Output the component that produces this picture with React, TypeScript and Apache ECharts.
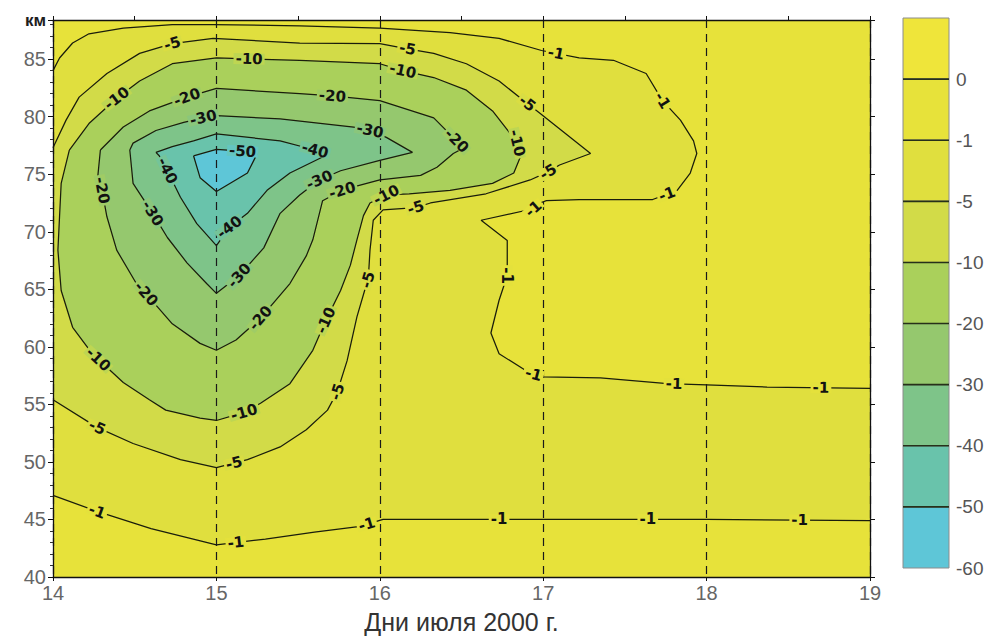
import React, { useEffect, useRef } from "react";
import * as echarts from "echarts";

type Pt = [number, number];

// Contour levels (colour-bar order, top to bottom)
const levelValues = [0, -1, -5, -10, -20, -30, -40, -50, -60];

// Band fills: above 0, 0…-1, -1…-5, -5…-10, -10…-20, -20…-30, -30…-40, -40…-50, -50…-60
const bandColors = [
  "#efe53a",
  "#e7e23a",
  "#e0df3e",
  "#d2db48",
  "#aad05b",
  "#95c86e",
  "#7ec489",
  "#69c3ab",
  "#5ec6d7",
];

// Isolines in (day of July, km)
const iso1Lower: Pt[] = [
  [14, 47.1], [14.27, 45.7], [14.6, 44.2], [15.0, 42.8], [15.3, 43.3], [15.6, 43.9],
  [15.88, 44.4], [16.02, 45.0], [17, 45.0], [18, 45.0], [19, 44.9],
];

const iso1Upper: Pt[] = [
  [14, 84.0], [14.04, 85.1], [14.12, 86.4], [14.22, 87.2], [14.43, 87.7], [14.73, 88.0],
  [14.98, 88.0], [15.51, 87.9], [16.0, 87.7], [16.43, 87.3], [16.73, 86.8], [16.99, 85.75],
  [17.22, 85.1], [17.43, 84.9], [17.63, 83.75], [17.73, 81.4], [17.84, 79.7], [17.92, 77.9],
  [17.94, 76.8], [17.9, 75.1], [17.82, 73.6], [17.67, 72.8], [17.22, 72.8], [17.02, 72.7],
  [16.98, 72.5], [16.94, 72.0], [16.62, 71.0], [16.78, 69.25], [16.78, 66.2], [16.73, 64.05],
  [16.68, 61.2], [16.73, 59.4], [16.92, 57.7], [17.0, 57.4], [17.35, 57.3], [17.76, 56.8],
  [18.0, 56.7], [18.37, 56.5], [19, 56.4],
];

const iso5: Pt[] = [
  [14.0, 77.3], [14.08, 79.7], [14.16, 81.7], [14.33, 83.75], [14.53, 85.5], [14.73, 86.35],
  [14.98, 86.8], [15.51, 86.4], [16.0, 86.35], [16.17, 85.9], [16.33, 85.5], [16.53, 84.6],
  [16.73, 83.1], [16.88, 81.4], [16.98, 80.3], [17.29, 76.8], [17.1, 75.8], [17.03, 75.2],
  [16.92, 74.5], [16.65, 73.3], [16.31, 72.5], [16.22, 72.1], [16.02, 71.9], [15.96, 71.0],
  [15.94, 68.4], [15.93, 66.0], [15.86, 62.6], [15.8, 58.8], [15.74, 56.1], [15.68, 54.5],
  [15.55, 52.8], [15.39, 51.3], [15.19, 50.2], [15.0, 49.5], [14.78, 50.2], [14.49, 51.6],
  [14.27, 53.0], [14.0, 55.4],
];

const iso10: Pt[] = [
  [14.1, 77.1], [14.05, 74.2], [14.04, 71.3], [14.03, 68.4], [14.05, 64.9], [14.12, 61.7],
  [14.24, 59.4], [14.43, 56.9], [14.59, 55.4], [14.69, 54.5], [14.9, 53.8], [15.0, 53.6],
  [15.17, 54.3], [15.27, 55.1], [15.45, 56.8], [15.59, 59.7], [15.67, 62.3], [15.76, 64.9],
  [15.82, 67.1], [15.86, 69.3], [15.9, 71.4], [15.94, 72.5], [16.04, 73.2], [16.18, 73.3],
  [16.43, 73.6], [16.69, 74.2], [16.82, 75.1], [16.86, 76.5], [16.84, 77.7], [16.8, 78.5],
  [16.69, 80.5], [16.53, 82.3], [16.33, 83.4], [16.14, 84.0], [16.0, 84.6], [15.51, 84.9],
  [15.0, 85.1], [14.73, 84.6], [14.53, 83.1], [14.39, 81.6], [14.22, 79.4], [14.1, 77.1],
];

const iso20: Pt[] = [
  [14.29, 77.1], [14.43, 79.1], [14.59, 80.5], [14.82, 81.7], [15.0, 82.45], [15.51, 82.0],
  [15.71, 81.8], [16.0, 81.4], [16.33, 79.9], [16.47, 77.9], [16.49, 77.1], [16.45, 76.8],
  [16.35, 75.6], [16.25, 74.9], [16.0, 74.5], [15.84, 73.9], [15.77, 73.6], [15.65, 72.7],
  [15.59, 69.3], [15.55, 67.9], [15.45, 65.5], [15.27, 62.5], [15.12, 60.6], [15.0, 59.7],
  [14.9, 60.3], [14.73, 62.0], [14.57, 64.6], [14.51, 65.5], [14.39, 68.4], [14.33, 71.3],
  [14.3, 73.6], [14.27, 74.2], [14.29, 77.1],
];

const iso30: Pt[] = [
  [14.47, 77.1], [14.49, 77.7], [14.63, 78.8], [14.8, 79.5], [14.92, 79.9], [15.0, 80.1],
  [15.39, 79.8], [15.84, 79.1], [15.94, 78.8], [16.04, 78.2], [16.2, 76.9], [16.0, 76.2],
  [15.76, 75.3], [15.63, 74.5], [15.51, 73.2], [15.39, 71.6], [15.29, 68.6], [15.14, 66.2],
  [15.0, 64.65], [14.94, 65.5], [14.82, 67.3], [14.7, 69.5], [14.61, 71.6], [14.49, 74.2],
  [14.47, 77.1],
];

const iso40: Pt[] = [
  [14.63, 76.9], [14.73, 77.4], [14.86, 77.9], [15.0, 78.5], [15.39, 77.9], [15.55, 77.3],
  [15.61, 77.07], [15.65, 76.5], [15.45, 75.1], [15.31, 73.6], [15.19, 71.6], [15.08, 70.4],
  [15.0, 68.8], [14.88, 70.7], [14.78, 73.0], [14.7, 75.3], [14.65, 76.6], [14.63, 76.9],
];

const iso50: Pt[] = [
  [14.86, 76.6], [15.0, 77.15], [15.16, 77.0], [15.25, 76.8], [15.19, 75.1], [15.0, 73.5],
  [14.9, 74.7], [14.86, 76.6],
];

// Inline contour labels: [day, km, level]
const contourLabels: [number, number, number][] = [
  [14.27, 45.7, -1], [15.12, 42.9, -1], [15.92, 44.6, -1], [16.73, 45.0, -1], [17.64, 45.0, -1],
  [18.57, 44.95, -1], [17.08, 85.6, -1], [17.73, 81.4, -1], [17.76, 73.2, -1], [16.94, 72.0, -1],
  [16.78, 66.2, -1], [16.94, 57.6, -1], [17.8, 56.7, -1], [18.7, 56.45, -1],
  [14.73, 86.35, -5], [16.17, 85.9, -5], [16.9, 81.1, -5], [17.03, 75.2, -5], [16.22, 72.1, -5],
  [15.93, 65.8, -5], [15.74, 56.1, -5], [15.11, 49.8, -5], [14.27, 53.0, -5],
  [14.39, 81.6, -10], [15.2, 85.0, -10], [16.14, 84.0, -10], [16.84, 77.7, -10], [16.04, 73.2, -10],
  [15.67, 62.3, -10], [15.17, 54.3, -10], [14.29, 59.1, -10],
  [14.82, 81.7, -20], [15.71, 81.8, -20], [16.47, 77.9, -20], [15.77, 73.6, -20], [15.27, 62.5, -20],
  [14.57, 64.6, -20], [14.3, 73.6, -20],
  [14.92, 79.9, -30], [15.94, 78.8, -30], [15.63, 74.5, -30], [15.14, 66.2, -30], [14.61, 71.6, -30],
  [15.6, 76.9, -40], [15.08, 70.4, -40], [14.7, 75.3, -40],
  [15.16, 77.0, -50],
];

const FONT = "'Liberation Sans', Arial, sans-serif";

export default function App() {
  const ref = useRef<HTMLDivElement>(null);

  useEffect(() => {
    if (!ref.current) return;
    const chart = echarts.init(ref.current, undefined, { renderer: "svg" });

    const isolines: { level: number; pts: Pt[] }[] = [
      { level: -1, pts: iso1Lower },
      { level: -1, pts: iso1Upper },
      { level: -5, pts: iso5 },
      { level: -10, pts: iso10 },
      { level: -20, pts: iso20 },
      { level: -30, pts: iso30 },
      { level: -40, pts: iso40 },
      { level: -50, pts: iso50 },
    ];

    // Areas lying below each level, painted outermost first
    const regions: { level: number; pts: Pt[] }[] = [
      { level: -1, pts: [...iso1Upper, ...[...iso1Lower].reverse()] },
      { level: -5, pts: iso5 },
      { level: -10, pts: iso10 },
      { level: -20, pts: iso20 },
      { level: -30, pts: iso30 },
      { level: -40, pts: iso40 },
      { level: -50, pts: iso50 },
    ];

    const levelIdx = (lv: number) => levelValues.indexOf(lv);

    const option: any = {
      animation: false,
      backgroundColor: "#ffffff",
      grid: [
        {
          left: 53, top: 20, width: 817, height: 557,
          show: true, backgroundColor: bandColors[1], borderWidth: 0,
          outerBoundsMode: "none",
        },
        {
          left: 903, top: 18, width: 46, height: 550,
          show: false, outerBoundsMode: "none",
        },
      ],
      xAxis: [
        {
          type: "value", gridIndex: 0, min: 14, max: 19, interval: 1, position: "bottom", z: 3,
          axisLine: { onZero: false, lineStyle: { color: "#111", width: 1.3 } },
          axisTick: { length: 4, lineStyle: { color: "#111" } },
          axisLabel: { color: "#666", fontSize: 20, fontFamily: FONT, margin: 6 },
          splitLine: { show: true, lineStyle: { color: "#1a1a1a", type: [8, 6], width: 1.2 } },
          name: "Дни июля 2000 г.",
          nameLocation: "middle",
          nameGap: 32,
          nameTextStyle: { color: "#333", fontSize: 25, fontFamily: FONT },
        },
        {
          type: "value", gridIndex: 0, min: 14, max: 19, interval: 0.5, position: "top", z: 3,
          axisLine: { onZero: false, lineStyle: { color: "#111", width: 1.3 } },
          axisTick: { length: 4, lineStyle: { color: "#111" } },
          axisLabel: { show: false },
          splitLine: { show: false },
        },
        { type: "value", gridIndex: 1, min: 0, max: 1, show: false },
      ],
      yAxis: [
        {
          type: "value", gridIndex: 0, min: 40, max: 88.4, interval: 5, position: "left", z: 3,
          axisLine: { onZero: false, lineStyle: { color: "#111", width: 1.3 } },
          axisTick: { length: 5, lineStyle: { color: "#111" } },
          minorTick: { show: true, splitNumber: 5, length: 3, lineStyle: { color: "#333" } },
          axisLabel: {
            color: "#666", fontSize: 20, fontFamily: FONT, margin: 7,
            formatter: (v: number) => (v > 86 ? "{u|км}" : String(v)),
            rich: { u: { fontSize: 17, fontWeight: "bold", color: "#1e1e1e", fontFamily: FONT } },
          },
          splitLine: { show: false },
        },
        {
          type: "value", gridIndex: 0, min: 40, max: 88.4, interval: 5, position: "right", z: 3,
          axisLine: { onZero: false, lineStyle: { color: "#111", width: 1.3 } },
          axisTick: { length: 5, lineStyle: { color: "#111" } },
          axisLabel: { show: false },
          splitLine: { show: false },
        },
        {
          type: "value", gridIndex: 1, min: 0, max: 9, interval: 1, position: "right",
          axisLine: { show: false },
          axisTick: { show: false },
          splitLine: { show: false },
          axisLabel: {
            color: "#555", fontSize: 19, fontFamily: FONT, margin: 7,
            formatter: (v: number) => (v >= 0 && v <= 8 ? String(levelValues[8 - v]) : ""),
          },
        },
      ],
      series: [
        // filled bands
        {
          type: "custom",
          xAxisIndex: 0,
          yAxisIndex: 0,
          z: 1,
          silent: true,
          data: regions.map((_, i) => [i]),
          renderItem: (_params: any, api: any) => {
            const r = regions[api.value(0) as number];
            return {
              type: "polygon",
              shape: { points: r.pts.map((p) => api.coord(p)) },
              style: { fill: bandColors[levelIdx(r.level) + 1], stroke: "none" },
            };
          },
        },
        // isolines
        ...isolines.map((l) => ({
          type: "line",
          xAxisIndex: 0,
          yAxisIndex: 0,
          z: 2,
          silent: true,
          symbol: "none",
          data: l.pts,
          lineStyle: { color: "#1a1d0c", width: 1.25 },
        })),
        // inline labels, oriented along the nearest isoline segment
        {
          type: "custom",
          xAxisIndex: 0,
          yAxisIndex: 0,
          z: 4,
          silent: true,
          data: contourLabels,
          renderItem: (_params: any, api: any) => {
            const lv = api.value(2) as number;
            const p = api.coord([api.value(0), api.value(1)]);
            let best = { d: Infinity, x: p[0], y: p[1], ang: 0 };
            isolines
              .filter((l) => l.level === lv)
              .forEach((l) => {
                const px = l.pts.map((q) => api.coord(q));
                for (let i = 0; i < px.length - 1; i++) {
                  const a = px[i];
                  const b = px[i + 1];
                  const dx = b[0] - a[0];
                  const dy = b[1] - a[1];
                  const len2 = dx * dx + dy * dy;
                  if (!len2) continue;
                  let t = ((p[0] - a[0]) * dx + (p[1] - a[1]) * dy) / len2;
                  t = Math.max(0, Math.min(1, t));
                  const qx = a[0] + t * dx;
                  const qy = a[1] + t * dy;
                  const d = (qx - p[0]) ** 2 + (qy - p[1]) ** 2;
                  if (d < best.d) best = { d, x: qx, y: qy, ang: Math.atan2(-dy, dx) };
                }
              });
            let ang = best.ang;
            if (ang > Math.PI / 2) ang -= Math.PI;
            if (ang < -Math.PI / 2) ang += Math.PI;
            const k = levelIdx(lv);
            const bg = echarts.color.lerp(0.5, [bandColors[k], bandColors[k + 1]]);
            return {
              type: "text",
              x: best.x,
              y: best.y,
              rotation: ang,
              style: {
                text: String(lv),
                x: 0,
                y: 0,
                align: "center",
                verticalAlign: "middle",
                font: "bold 15px 'DejaVu Sans', sans-serif",
                fill: "#121212",
                backgroundColor: bg,
                padding: [0, 2],
                lineHeight: 11,
              },
            };
          },
        },
        // colour bar
        {
          type: "custom",
          xAxisIndex: 2,
          yAxisIndex: 2,
          z: 2,
          silent: true,
          data: bandColors.map((_, i) => [i]),
          renderItem: (_params: any, api: any) => {
            const i = api.value(0) as number;
            const slot = bandColors.length - 1 - i;
            const p0 = api.coord([0, slot + 1]);
            const p1 = api.coord([1, slot]);
            const children: any[] = [
              {
                type: "rect",
                shape: { x: p0[0], y: p0[1], width: p1[0] - p0[0], height: p1[1] - p0[1] },
                style: { fill: bandColors[i], stroke: "#8c8c8c", lineWidth: 1 },
              },
            ];
            // dark divider on the upper edge of every band but the top one
            if (i >= 1) {
              children.push({
                type: "line",
                shape: { x1: p0[0], y1: p0[1], x2: p1[0], y2: p0[1] },
                style: { stroke: "#26301a", lineWidth: 1.6 },
              });
            }
            return { type: "group", children };
          },
        },
      ],
    };

    chart.setOption(option);
    return () => chart.dispose();
  }, []);

  return (
    <div
      ref={ref}
      style={{ position: "absolute", left: 0, top: 0, width: 989, height: 637, background: "#fff" }}
    />
  );
}
